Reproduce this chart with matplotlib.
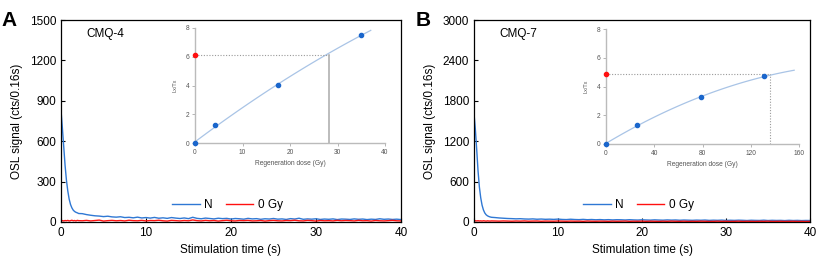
import numpy as np
import matplotlib
matplotlib.use('Agg')
import matplotlib.pyplot as plt

plt.rcParams['font.family'] = ['Liberation Sans', 'DejaVu Sans']

# OSL decay curves (time s, counts per 0.16 s channel)
t_early = [0, 0.16, 0.32, 0.48, 0.64, 0.8, 0.96, 1.12, 1.28, 1.44, 1.6, 1.76, 1.92, 2.08]
t_late = [2.5, 3.0, 3.5, 4.0, 4.5, 5.0, 5.5, 6.0, 6.5, 7.0, 7.5, 8.0, 8.5, 9.0, 9.5, 10.0,
          10.5, 11.0, 11.5, 12.0, 12.5, 13.0, 13.5, 14.0, 14.5, 15.0, 15.5, 16.0, 16.5, 17.0,
          17.5, 18.0, 18.5, 19.0, 19.5, 20.0, 20.5, 21.0, 21.5, 22.0, 22.5, 23.0, 23.5, 24.0,
          24.5, 25.0, 25.5, 26.0, 26.5, 27.0, 27.5, 28.0, 28.5, 29.0, 29.5, 30.0, 30.5, 31.0,
          31.5, 32.0, 32.5, 33.0, 33.5, 34.0, 34.5, 35.0, 35.5, 36.0, 36.5, 37.0, 37.5, 38.0,
          38.5, 39.0, 39.5, 40.0]
time_s = t_early + t_late

n_cmq4 = [830, 700, 560, 420, 310, 230, 170, 130, 105, 88, 78, 72, 68, 63,
          62, 55, 50, 46, 44, 40, 43, 38, 36, 39, 33, 35, 31, 36, 30, 33,
          29, 34, 28, 31, 27, 33, 29, 26, 30, 25, 35, 27, 24, 29, 26, 23,
          28, 25, 27, 22, 26, 24, 21, 27, 23, 25, 20, 24, 22, 26, 21, 23,
          19, 25, 22, 28, 20, 23, 21, 24, 19, 22, 20, 23, 18, 22, 21, 19,
          23, 20, 22, 18, 21, 19, 24, 20, 22, 19, 21, 18]
g0_cmq4 = [12, 10, 8, 11, 9, 12, 8, 10, 13, 9, 11, 8, 12, 10,
           9, 12, 8, 11, 14, 7, 10, 12, 9, 11, 8, 13, 10, 9, 12, 8,
           11, 10, 13, 9, 7, 12, 10, 8, 11, 9, 15, 10, 8, 12, 9, 11,
           7, 10, 13, 9, 8, 11, 10, 12, 8, 9, 11, 7, 10, 12, 9, 8,
           11, 10, 13, 9, 8, 12, 10, 7, 11, 9, 10, 8, 12, 9, 11, 10,
           8, 12, 9, 10, 7, 11, 9, 8, 10, 12, 9, 8]

n_cmq7 = [1610, 1380, 1080, 760, 520, 360, 250, 180, 135, 108, 92, 82, 75, 70,
          66, 60, 56, 52, 50, 47, 49, 45, 43, 46, 41, 44, 40, 42, 39, 43,
          38, 36, 41, 37, 35, 39, 34, 37, 33, 36, 32, 35, 31, 34, 33, 30,
          34, 31, 29, 33, 30, 28, 32, 29, 27, 31, 28, 30, 26, 29, 27, 25,
          28, 26, 29, 24, 27, 25, 28, 23, 26, 24, 27, 25, 22, 26, 24, 23,
          27, 22, 25, 23, 24, 21, 25, 22, 24, 21, 23, 22]
g0_cmq7 = [20, 18, 16, 19, 15, 17, 14, 18, 16, 13, 17, 15, 14, 16,
           15, 13, 16, 14, 12, 15, 13, 16, 12, 14, 15, 11, 14, 13, 12, 15,
           13, 11, 14, 12, 13, 10, 14, 12, 11, 13, 12, 10, 13, 11, 12, 14,
           10, 12, 11, 13, 10, 12, 11, 9, 12, 10, 13, 11, 10, 12, 9, 11,
           10, 12, 11, 9, 10, 12, 10, 11, 9, 10, 12, 9, 11, 10, 9, 11,
           10, 12, 9, 10, 11, 9, 10, 11, 9, 10, 8, 10]

# dose-response (inset)
dose_cmq4 = [0, 4.3, 17.5, 35.0]
lxtx_cmq4 = [0, 1.25, 4.05, 7.5]
ln_cmq4 = 6.15
de_cmq4 = 28.3
fit_end_cmq4 = 37.0

dose_cmq7 = [0, 26, 79, 131]
lxtx_cmq7 = [0, 1.35, 3.25, 4.7]
ln_cmq7 = 4.85
de_cmq7 = 136
fit_end_cmq7 = 156

blue = '#2f78d4'
red = '#ff1010'
dot_blue = '#1a66cc'
fit_col = '#a9c4e6'
grey = '#9a9a9a'


def main_panel(ax, n, g0, ymax, name, letter):
    ax.plot(time_s, n, color=blue, lw=1.0, label='N')
    ax.plot(time_s, g0, color=red, lw=1.0, label='0 Gy')
    ax.set_xlim(0, 40)
    ax.set_ylim(0, ymax)
    ax.set_xticks([0, 10, 20, 30, 40])
    ax.set_yticks(np.linspace(0, ymax, 6))
    ax.tick_params(direction='in', length=3, labelsize=8.5, width=0.8)
    ax.set_xlabel('Stimulation time (s)', fontsize=8.5)
    ax.set_ylabel('OSL signal (cts/0.16s)', fontsize=8.5, labelpad=5)
    for s in ax.spines.values():
        s.set_linewidth(0.9)
    ax.text(0.075, 0.93, name, transform=ax.transAxes, fontsize=8.5, va='center')
    ax.legend(loc='center', bbox_to_anchor=(0.49, 0.085), ncol=2, frameon=False,
              fontsize=8.5, handlelength=2.3, columnspacing=1.1, handletextpad=0.4)
    ax.text(-0.175, 1.0, letter, transform=ax.transAxes, fontsize=15,
            fontweight='bold', va='center')


def inset_panel(ax, dose, lxtx, ln, de, fit_end, xmax, xticks, solid_drop):
    coef = np.polyfit(dose, lxtx, 2)
    xf = np.linspace(0, fit_end, 100)
    ax.plot(xf, np.polyval(coef, xf), color=fit_col, lw=0.9)
    ax.scatter(dose, lxtx, s=9, color=dot_blue, zorder=3, clip_on=False)
    ax.scatter([0], [ln], s=9, color=red, zorder=3, clip_on=False)
    ax.plot([0, de], [ln, ln], color=grey, lw=0.8, ls=(0, (1, 1.5)))
    if solid_drop:
        ax.plot([de, de], [0, ln], color='#b0b0b0', lw=1.2)
    else:
        ax.plot([de, de], [0, ln], color=grey, lw=0.8, ls=(0, (1, 1.5)))
    ax.set_xlim(0, xmax)
    ax.set_ylim(0, 8)
    ax.set_xticks(xticks)
    ax.set_yticks([0, 2, 4, 6, 8])
    ax.patch.set_alpha(0)
    for side in ['top', 'right']:
        ax.spines[side].set_visible(False)
    for side in ['left', 'bottom']:
        ax.spines[side].set_color('#bbbbbb')
        ax.spines[side].set_linewidth(1.0)
    ax.tick_params(length=2, width=0.5, color='#999999', labelsize=4.8,
                   labelcolor='#555555', pad=2)
    ax.set_xlabel('Regeneration dose (Gy)', fontsize=4.8, color='#555555', labelpad=3)
    ax.set_ylabel('Lx/Tx', fontsize=4, color='#555555', labelpad=6)


fig = plt.figure(figsize=(8.16, 2.61), dpi=100)
W, H = 816, 261


def add_ax(x0, y0, x1, y1):
    return fig.add_axes([x0 / W, 1 - y1 / H, (x1 - x0) / W, (y1 - y0) / H])


ax_a = add_ax(61, 20, 401, 222)
ax_b = add_ax(474, 20, 810, 222)
main_panel(ax_a, n_cmq4, g0_cmq4, 1500, 'CMQ-4', 'A')
main_panel(ax_b, n_cmq7, g0_cmq7, 3000, 'CMQ-7', 'B')

in_a = add_ax(195, 28, 385, 143)
in_b = add_ax(606, 29, 799, 144)
inset_panel(in_a, dose_cmq4, lxtx_cmq4, ln_cmq4, de_cmq4, fit_end_cmq4, 40,
            [0, 10, 20, 30, 40], True)
inset_panel(in_b, dose_cmq7, lxtx_cmq7, ln_cmq7, de_cmq7, fit_end_cmq7, 160,
            [0, 40, 80, 120, 160], False)

fig.savefig('out.png', dpi=100)
